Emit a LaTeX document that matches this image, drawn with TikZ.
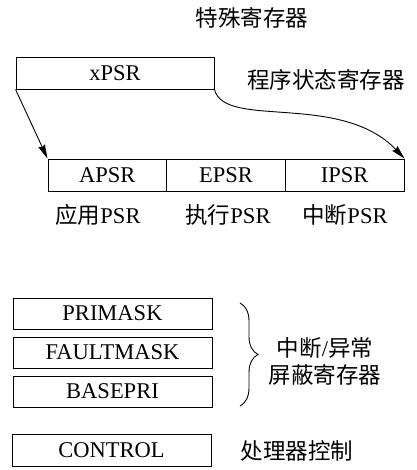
\documentclass[tikz,border=0pt]{standalone}
\usepackage{fontspec}
\setmainfont{Liberation Serif}
\newfontfamily\cjk{Noto Sans CJK SC}
\usetikzlibrary{arrows.meta,decorations.pathreplacing}
\tikzset{
  reg/.style={draw,line width=0.9pt,minimum width=199pt,minimum height=31pt,inner sep=0pt},
  psrcell/.style={draw,line width=0.9pt,minimum width=118.7pt,minimum height=32pt,inner sep=0pt},
  lbl/.style={inner sep=0pt}
}
\begin{document}
\begin{tikzpicture}[x=1pt,y=-1pt,font=\fontsize{22.5}{26}\selectfont]
  \useasboundingbox (0,0) rectangle (416,470);
  \node[lbl] (title) at (252,18) {\cjk 特殊寄存器};
  \node[reg,minimum width=198pt,minimum height=32pt] (xpsr) at (115,73) {xPSR};
  \node[lbl] (xpsrlbl) at (326,80) {\cjk 程序状态寄存器};
  \node[psrcell] (apsr) at (107.3,175) {APSR};
  \node[psrcell] (epsr) at (226,175) {EPSR};
  \node[psrcell] (ipsr) at (344.7,175) {IPSR};
  \node[lbl] (apsrlbl) at (98,215) {{\cjk 应用}PSR};
  \node[lbl] (epsrlbl) at (228,215) {{\cjk 执行}PSR};
  \node[lbl] (ipsrlbl) at (345,215) {{\cjk 中断}PSR};
  \draw[line width=0.9pt,-{Stealth[length=14pt,width=7pt,inset=1.5pt]}] (xpsr.south west) -- (apsr.north west);
  \draw[line width=0.9pt,-{Stealth[length=14pt,width=7pt,inset=1.5pt]}] (xpsr.south east) .. controls +(10,40) and +(-64,-67) .. (ipsr.north east);
  \node[reg] (primask) at (112.5,313.5) {PRIMASK};
  \node[reg] (faultmask) at (112.5,352.5) {FAULTMASK};
  \node[reg] (basepri) at (112.5,391.5) {BASEPRI};
  \node[reg,minimum height=32pt] (control) at (111.5,450) {CONTROL};
  \coordinate (bracetop) at (240,303);
  \coordinate (bracebot) at (240,406);
  \draw[line width=0.9pt,decorate,decoration={brace,amplitude=18pt}] (bracetop) -- (bracebot);
  \node[lbl] (masklbl1) at (325,348) {{\cjk 中断}/{\cjk 异常}};
  \node[lbl] (masklbl2) at (325,375) {\cjk 屏蔽寄存器};
  \node[lbl] (controllbl) at (297,451) {\cjk 处理器控制};
\end{tikzpicture}
\end{document}
